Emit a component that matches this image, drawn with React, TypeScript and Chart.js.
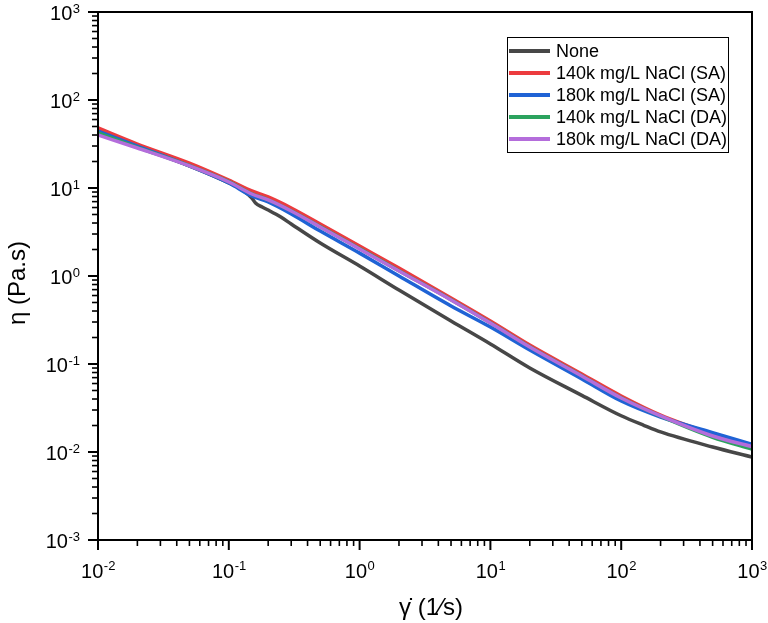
import React, { useEffect, useRef } from 'react';
import { Chart, registerables } from 'chart.js';

Chart.register(...registerables);

// Shear rate (1/s)
const shearRate = [0.01, 0.02, 0.05, 0.1, 0.15, 0.2, 0.3, 0.5, 1, 2, 5, 10, 20, 50, 100, 200, 500, 1000];
const shearRateNone = [0.01, 0.02, 0.05, 0.1, 0.13, 0.15, 0.16, 0.18, 0.2, 0.25, 0.3, 0.5, 1, 2, 5, 10, 20, 50, 100, 150, 200, 500, 1000];

// Viscosity (Pa.s)
const etaNone = [44.4, 30.0, 17.8, 11.4, 9.25, 7.69, 6.76, 6.08, 5.62, 4.68, 3.90, 2.37, 1.30, 0.693, 0.308, 0.169, 0.0901, 0.044, 0.0258, 0.0200, 0.0169, 0.0114, 0.00877];
const eta140SA = [48.1, 31.6, 19.2, 12.3, 9.25, 7.91, 5.93, 3.90, 2.19, 1.23, 0.562, 0.308, 0.164, 0.0769, 0.0433, 0.0263, 0.0160, 0.0117];
const eta180SA = [44.4, 30.0, 17.8, 11.4, 8.11, 6.93, 5.07, 3.24, 1.82, 1.0, 0.456, 0.263, 0.144, 0.0676, 0.038, 0.025, 0.0166, 0.0122];
const eta140DA = [42.2, 29.0, 17.9, 11.8, 8.6, 7.35, 5.52, 3.64, 2.05, 1.15, 0.538, 0.294, 0.157, 0.0735, 0.0413, 0.0255, 0.0147, 0.0108];
const eta180DA = [40.0, 28.5, 17.8, 11.7, 8.55, 7.31, 5.48, 3.61, 2.03, 1.14, 0.534, 0.292, 0.156, 0.0731, 0.0411, 0.0257, 0.0152, 0.0115];

const seriesLabels = ['None', '140k mg/L NaCl (SA)', '180k mg/L NaCl (SA)', '140k mg/L NaCl (DA)', '180k mg/L NaCl (DA)'];
const seriesColors = ['#474747', '#ec3b3e', '#1f63d5', '#2ba35e', '#b46ddb'];

const xExponents = [-2, -1, 0, 1, 2, 3];
const yExponents = [-3, -2, -1, 0, 1, 2, 3];

const FONT = "'Liberation Sans', Arial, sans-serif";

function toPoints(xs: number[], ys: number[]) {
  return xs.map((x, i) => ({ x, y: ys[i] }));
}

const framePlugin = {
  id: 'framePlugin',
  afterDraw(chart: any) {
    const { ctx, chartArea: a, scales } = chart;
    const xs = scales.x;
    const ys = scales.y;
    ctx.save();
    ctx.strokeStyle = '#000';
    ctx.fillStyle = '#000';

    // ticks x
    for (let i = 0; i < xExponents.length; i++) {
      const e = xExponents[i];
      const px = xs.getPixelForValue(Math.pow(10, e));
      ctx.lineWidth = 2;
      ctx.beginPath();
      ctx.moveTo(px, a.bottom);
      ctx.lineTo(px, a.bottom + 10);
      ctx.stroke();
      if (i < xExponents.length - 1) {
        ctx.lineWidth = 1.6;
        for (let k = 2; k <= 9; k++) {
          const mx = xs.getPixelForValue(k * Math.pow(10, e));
          ctx.beginPath();
          ctx.moveTo(mx, a.bottom);
          ctx.lineTo(mx, a.bottom + 6);
          ctx.stroke();
        }
      }
      const base = '10';
      const sup = String(e);
      ctx.font = `20px ${FONT}`;
      const wb = ctx.measureText(base).width;
      ctx.font = `13px ${FONT}`;
      const ws = ctx.measureText(sup).width;
      const start = px - (wb + ws) / 2;
      ctx.textAlign = 'left';
      ctx.textBaseline = 'alphabetic';
      ctx.font = `20px ${FONT}`;
      ctx.fillText(base, start, a.bottom + 38);
      ctx.font = `13px ${FONT}`;
      ctx.fillText(sup, start + wb + 0.5, a.bottom + 30);
    }

    // ticks y
    for (let i = 0; i < yExponents.length; i++) {
      const e = yExponents[i];
      const py = ys.getPixelForValue(Math.pow(10, e));
      ctx.lineWidth = 2;
      ctx.beginPath();
      ctx.moveTo(a.left, py);
      ctx.lineTo(a.left - 10, py);
      ctx.stroke();
      if (i < yExponents.length - 1) {
        ctx.lineWidth = 1.6;
        for (let k = 2; k <= 9; k++) {
          const my = ys.getPixelForValue(k * Math.pow(10, e));
          ctx.beginPath();
          ctx.moveTo(a.left, my);
          ctx.lineTo(a.left - 6, my);
          ctx.stroke();
        }
      }
      const base = '10';
      const sup = String(e);
      ctx.font = `13px ${FONT}`;
      const ws = ctx.measureText(sup).width;
      const right = a.left - 18;
      ctx.textAlign = 'right';
      ctx.textBaseline = 'alphabetic';
      ctx.fillText(sup, right, py + 1);
      ctx.font = `20px ${FONT}`;
      ctx.fillText(base, right - ws - 0.5, py + 8);
    }

    // frame box
    ctx.lineWidth = 2;
    ctx.strokeRect(a.left, a.top, a.right - a.left, a.bottom - a.top);

    // axis titles
    ctx.font = `24px ${FONT}`;
    ctx.textAlign = 'center';
    ctx.textBaseline = 'alphabetic';
    ctx.fillText('\u03B3\u0307 (1\u2044s)', (a.left + a.right) / 2 + 6, 615);
    ctx.save();
    ctx.translate(25, (a.top + a.bottom) / 2 + 7);
    ctx.rotate(-Math.PI / 2);
    ctx.fillText('\u03B7 (Pa.s)', 0, 0);
    ctx.restore();

    // legend
    const lx = 507, ly = 37, lw = 221, lh = 115;
    ctx.fillStyle = '#fff';
    ctx.fillRect(lx, ly, lw, lh);
    ctx.strokeStyle = '#000';
    ctx.lineWidth = 1;
    ctx.strokeRect(lx + 0.5, ly + 0.5, lw, lh);
    ctx.font = `18px ${FONT}`;
    ctx.textAlign = 'left';
    ctx.textBaseline = 'middle';
    const dsets = chart.data.datasets;
    for (let i = 0; i < dsets.length; i++) {
      const rowY = 51 + i * 22;
      ctx.strokeStyle = dsets[i].borderColor;
      ctx.lineWidth = 4;
      ctx.beginPath();
      ctx.moveTo(lx + 2, rowY);
      ctx.lineTo(lx + 43, rowY);
      ctx.stroke();
      ctx.fillStyle = '#000';
      ctx.fillText(dsets[i].label, lx + 49, rowY + 1);
    }
    ctx.restore();
  },
};

export default function App() {
  const ref = useRef<HTMLCanvasElement | null>(null);

  useEffect(() => {
    if (!ref.current) return;
    const seriesX = [shearRateNone, shearRate, shearRate, shearRate, shearRate];
    const seriesY = [etaNone, eta140SA, eta180SA, eta140DA, eta180DA];
    const orders = [4, 3, 2, 1, 0];
    const chart = new Chart(ref.current, {
      type: 'scatter',
      data: {
        datasets: seriesLabels.map((label, i) => ({
          label,
          data: toPoints(seriesX[i], seriesY[i]),
          showLine: true,
          borderColor: seriesColors[i],
          backgroundColor: seriesColors[i],
          borderWidth: 3.5,
          pointRadius: 0,
          cubicInterpolationMode: 'monotone' as const,
          order: orders[i],
        })),
      },
      options: {
        animation: false,
        responsive: true,
        maintainAspectRatio: false,
        layout: { padding: { left: 98, right: 16, top: 12, bottom: 83 } },
        plugins: { legend: { display: false }, tooltip: { enabled: false } },
        scales: {
          x: { type: 'logarithmic', min: 0.01, max: 1000, display: false },
          y: { type: 'logarithmic', min: 0.001, max: 1000, display: false },
        },
      },
      plugins: [framePlugin],
    });
    return () => chart.destroy();
  }, []);

  return (
    <div style={{ position: 'fixed', left: 0, top: 0, width: 768, height: 623, background: '#fff' }}>
      <canvas ref={ref} />
    </div>
  );
}
